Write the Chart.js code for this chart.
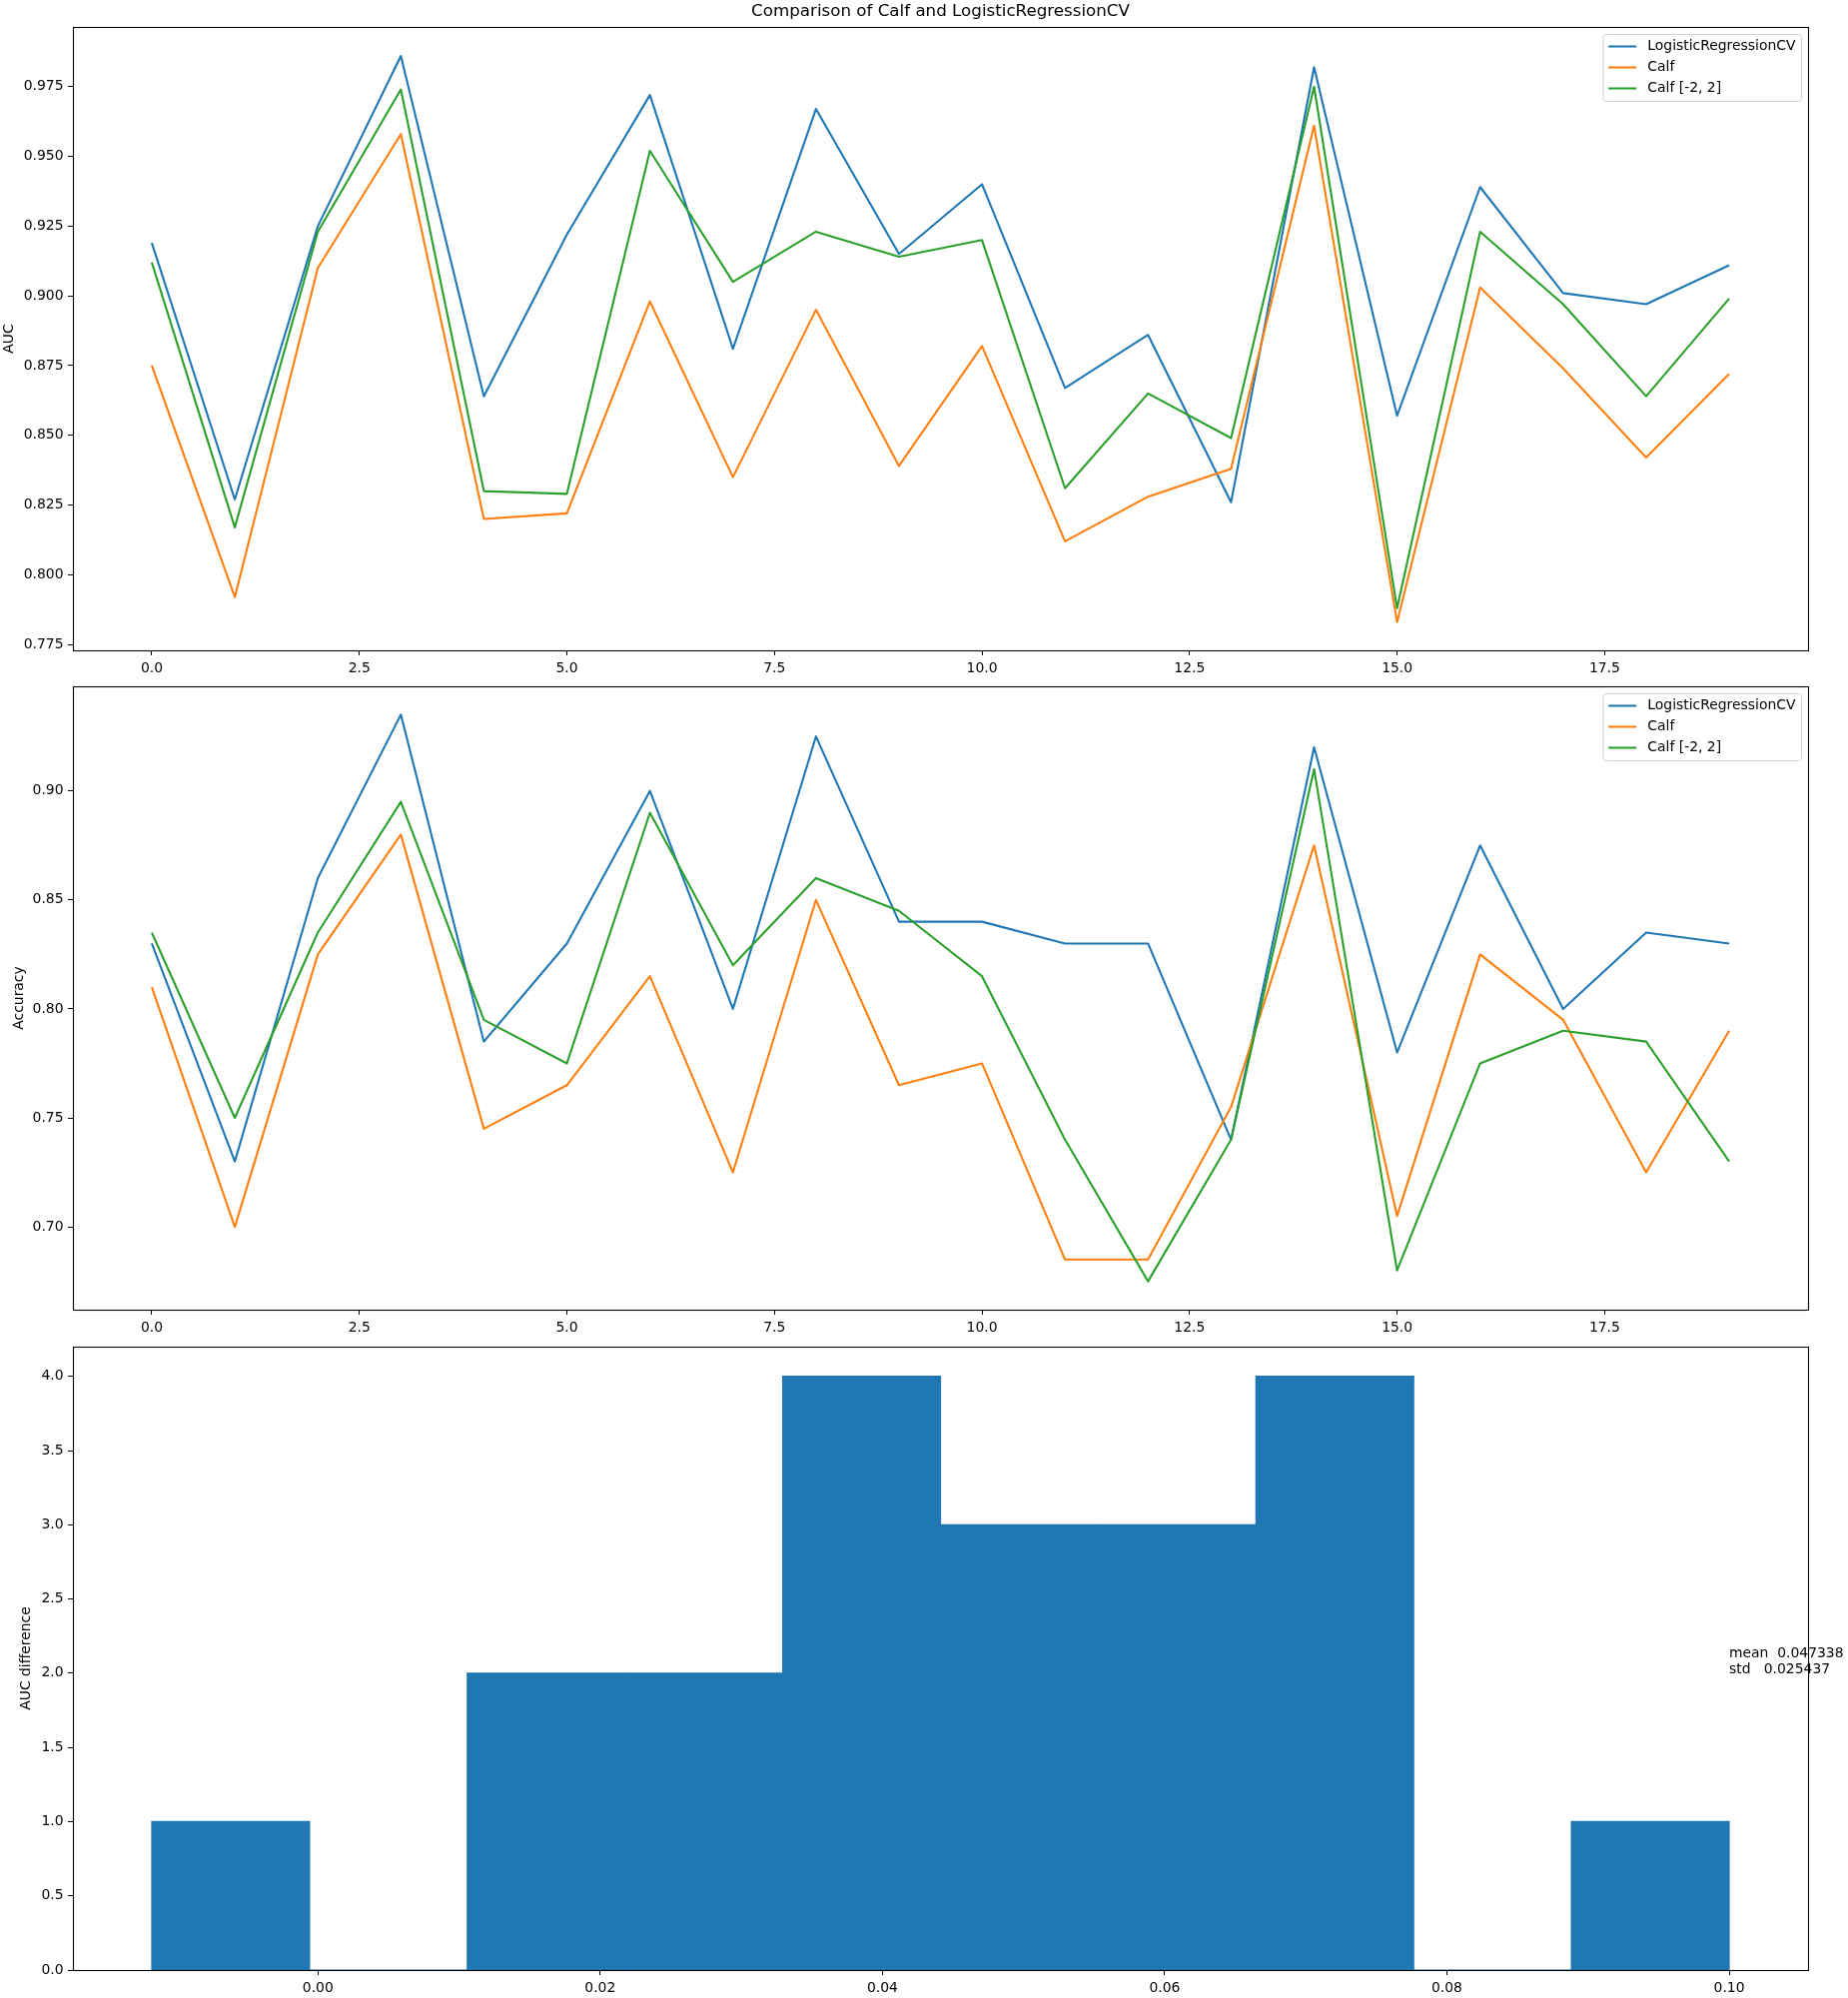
<!DOCTYPE html>
<html>
<head>
<meta charset="utf-8">
<title>Comparison of Calf and LogisticRegressionCV</title>
<script src="https://cdn.jsdelivr.net/npm/chart.js@4.4.1/dist/chart.umd.min.js"></script>
<style>
  html, body { margin: 0; padding: 0; background: #fff; }
  canvas.panel { position: absolute; left: 0; }
</style>
</head>
<body>
<canvas id="auc-chart" class="panel" width="1850" height="680" style="top:0"></canvas>
<canvas id="acc-chart" class="panel" width="1850" height="660" style="top:680px"></canvas>
<canvas id="diff-chart" class="panel" width="1850" height="660" style="top:1340px"></canvas>
<script>
// ─── Data ──────────────────────────────────────────────────
const runs = [0, 1, 2, 3, 4, 5, 6, 7, 8, 9, 10, 11, 12, 13, 14, 15, 16, 17, 18, 19];

const aucLogReg = [0.919, 0.827, 0.925, 0.986, 0.864, 0.922, 0.972, 0.881, 0.967, 0.915,
                   0.940, 0.867, 0.886, 0.826, 0.982, 0.857, 0.939, 0.901, 0.897, 0.911];
const aucCalf = [0.875, 0.792, 0.910, 0.958, 0.820, 0.822, 0.898, 0.835, 0.895, 0.839,
                 0.882, 0.812, 0.828, 0.838, 0.961, 0.783, 0.903, 0.874, 0.842, 0.872];
const aucCalfBounded = [0.912, 0.817, 0.923, 0.974, 0.830, 0.829, 0.952, 0.905, 0.923, 0.914,
                        0.920, 0.831, 0.865, 0.849, 0.975, 0.788, 0.923, 0.897, 0.864, 0.899];

const accLogReg = [0.830, 0.730, 0.860, 0.935, 0.785, 0.830, 0.900, 0.800, 0.925, 0.840,
                   0.840, 0.830, 0.830, 0.740, 0.920, 0.780, 0.875, 0.800, 0.835, 0.830];
const accCalf = [0.810, 0.700, 0.825, 0.880, 0.745, 0.765, 0.815, 0.725, 0.850, 0.765,
                 0.775, 0.685, 0.685, 0.755, 0.875, 0.705, 0.825, 0.795, 0.725, 0.790];
const accCalfBounded = [0.835, 0.750, 0.835, 0.895, 0.795, 0.775, 0.890, 0.820, 0.860, 0.845,
                        0.815, 0.740, 0.675, 0.740, 0.910, 0.680, 0.775, 0.790, 0.785, 0.730];

// histogram of the AUC difference (10 equal bins)
const diffBinEdges = [-0.011770, -0.000593, 0.010584, 0.021761, 0.032938, 0.044115,
                      0.055292, 0.066469, 0.077646, 0.088823, 0.100000];
const diffBinCounts = [1, 0, 2, 2, 4, 3, 3, 4, 0, 1];
const diffStats = ['mean  0.047338', 'std   0.025437'];

// tick labels
const runTicks = [0, 2.5, 5, 7.5, 10, 12.5, 15, 17.5];
const aucTicks = [0.775, 0.800, 0.825, 0.850, 0.875, 0.900, 0.925, 0.950, 0.975];
const accTicks = [0.70, 0.75, 0.80, 0.85, 0.90];
const diffTicks = [0.00, 0.02, 0.04, 0.06, 0.08, 0.10];
const countTicks = [0, 0.5, 1, 1.5, 2, 2.5, 3, 3.5, 4];

const seriesNames = ['LogisticRegressionCV', 'Calf', 'Calf [-2, 2]'];
const seriesColors = ['#1f77b4', '#ff7f0e', '#2ca02c'];

// ─── Defaults ──────────────────────────────────────────────
const FONT = 'DejaVu Sans';
Chart.defaults.font.family = FONT;
Chart.defaults.font.size = 13.9;
Chart.defaults.color = '#000';
Chart.defaults.animation = false;

// axes frame like matplotlib spines
const axesFrame = {
    id: 'axesFrame',
    afterDatasetsDraw(chart) {
        const { ctx, chartArea: a } = chart;
        ctx.save();
        ctx.strokeStyle = '#000';
        ctx.lineWidth = 1.1;
        ctx.strokeRect(Math.floor(a.left) + 0.5, Math.floor(a.top) + 0.5,
            Math.round(a.right - a.left), Math.round(a.bottom - a.top));
        ctx.restore();
    }
};

// legend box in the upper right of the axes
const boxLegend = {
    id: 'boxLegend',
    afterDraw(chart, args, opts) {
        if (!opts.show) return;
        const { ctx, chartArea: a } = chart;
        const sets = chart.data.datasets;
        ctx.save();
        ctx.font = `13.9px "${FONT}"`;
        const textW = Math.max(...sets.map(d => ctx.measureText(d.label).width));
        const w = 5.6 + 28 + 11.2 + textW + 5.6;
        const h = 67;
        const x = a.right - 7 - w;
        const y = a.top + 7;
        ctx.beginPath();
        ctx.roundRect(x + 0.5, y + 0.5, w, h, 3);
        ctx.fillStyle = 'rgba(255,255,255,0.8)';
        ctx.fill();
        ctx.strokeStyle = '#d0d0d0';
        ctx.lineWidth = 1;
        ctx.stroke();
        sets.forEach((d, i) => {
            const cy = y + 12.5 + i * 21;
            ctx.beginPath();
            ctx.moveTo(x + 5.6, cy);
            ctx.lineTo(x + 33.6, cy);
            ctx.strokeStyle = d.borderColor;
            ctx.lineWidth = 2.1;
            ctx.stroke();
            ctx.fillStyle = '#000';
            ctx.textBaseline = 'middle';
            ctx.textAlign = 'left';
            ctx.fillText(d.label, x + 44.8, cy);
        });
        ctx.restore();
    }
};

// text placed at data coordinates (last line baseline on the anchor)
const dataNote = {
    id: 'dataNote',
    afterDraw(chart, args, opts) {
        if (!opts.lines) return;
        const { ctx, scales } = chart;
        const px = scales.x.getPixelForValue(opts.at[0]);
        const py = scales.y.getPixelForValue(opts.at[1]);
        ctx.save();
        ctx.font = `13.9px "${FONT}"`;
        ctx.fillStyle = '#000';
        ctx.textAlign = 'left';
        ctx.textBaseline = 'alphabetic';
        const n = opts.lines.length;
        opts.lines.forEach((t, i) => ctx.fillText(t, px, py - (n - 1 - i) * 16));
        ctx.restore();
    }
};

function xAxis(min, max, ticks, digits, height) {
    return {
        type: 'linear', min, max, bounds: 'data', offset: false,
        afterBuildTicks: s => { s.ticks = ticks.map(v => ({ value: v })); },
        afterFit: s => { s.height = height; s.paddingLeft = 0; s.paddingRight = 0; },
        grid: { drawOnChartArea: false, drawTicks: true, tickLength: 5, color: '#000', offset: false },
        border: { display: false },
        ticks: { callback: v => v.toFixed(digits), padding: 5, maxRotation: 0, autoSkip: false }
    };
}

function yAxis(min, max, ticks, digits, title, titlePad) {
    return {
        type: 'linear', min, max, bounds: 'data',
        afterBuildTicks: s => { s.ticks = ticks.map(v => ({ value: v })); },
        afterFit: s => { s.width = 73; s.paddingTop = 0; s.paddingBottom = 0; },
        grid: { drawOnChartArea: false, drawTicks: true, tickLength: 5, color: '#000' },
        border: { display: false },
        title: { display: true, text: title, padding: { top: titlePad, bottom: 0 } },
        ticks: { callback: v => v.toFixed(digits), padding: 4.5, autoSkip: false }
    };
}

function lineSets(series) {
    return series.map((vals, i) => ({
        label: seriesNames[i],
        data: runs.map((r, k) => ({ x: r, y: vals[k] })),
        borderColor: seriesColors[i],
        backgroundColor: seriesColors[i],
        borderWidth: 2.1,
        borderJoinStyle: 'round',
        pointRadius: 0,
        tension: 0,
        order: series.length - i
    }));
}

const basePlugins = {
    legend: { display: false },
    tooltip: { enabled: false }
};

// ─── AUC ───────────────────────────────────────────────────
new Chart(document.getElementById('auc-chart'), {
    type: 'line',
    data: { datasets: lineSets([aucLogReg, aucCalf, aucCalfBounded]) },
    options: {
        responsive: false,
        layout: { padding: { left: 0, right: 40, top: 0, bottom: 0 } },
        plugins: {
            ...basePlugins,
            title: {
                display: true, fullSize: false,
                text: 'Comparison of Calf and LogisticRegressionCV',
                font: { size: 16.7, weight: 'normal' },
                padding: { top: 2, bottom: 4.96 }
            },
            boxLegend: { show: true }
        },
        scales: {
            x: xAxis(-0.95, 19.95, runTicks, 1, 29),
            y: yAxis(0.7729, 0.9964, aucTicks, 3, 'AUC', 1.2)
        }
    },
    plugins: [axesFrame, boxLegend]
});

// ─── Accuracy ──────────────────────────────────────────────
new Chart(document.getElementById('acc-chart'), {
    type: 'line',
    data: { datasets: lineSets([accLogReg, accCalf, accCalfBounded]) },
    options: {
        responsive: false,
        layout: { padding: { left: 0, right: 40, top: 7, bottom: 0 } },
        plugins: { ...basePlugins, boxLegend: { show: true } },
        scales: {
            x: xAxis(-0.95, 19.95, runTicks, 1, 29),
            y: yAxis(0.662, 0.948, accTicks, 2, 'Accuracy', 10.7)
        }
    },
    plugins: [axesFrame, boxLegend]
});

// ─── AUC difference histogram ──────────────────────────────
new Chart(document.getElementById('diff-chart'), {
    type: 'bar',
    data: {
        datasets: [{
            data: diffBinCounts.map((c, i) => ({ x: (diffBinEdges[i] + diffBinEdges[i + 1]) / 2, y: c })),
            backgroundColor: '#1f77b4',
            borderWidth: 0,
            inflateAmount: 0.6,
            barPercentage: 1,
            categoryPercentage: 1
        }]
    },
    options: {
        responsive: false,
        layout: { padding: { left: 0, right: 40, top: 8, bottom: 0 } },
        plugins: { ...basePlugins, dataNote: { lines: diffStats, at: [0.10, 2.0] } },
        scales: {
            x: xAxis(-0.01736, 0.10559, diffTicks, 2, 28),
            y: yAxis(0, 4.2, countTicks, 1, 'AUC difference', 18.4)
        }
    },
    plugins: [axesFrame, dataNote]
});
</script>
</body>
</html>
